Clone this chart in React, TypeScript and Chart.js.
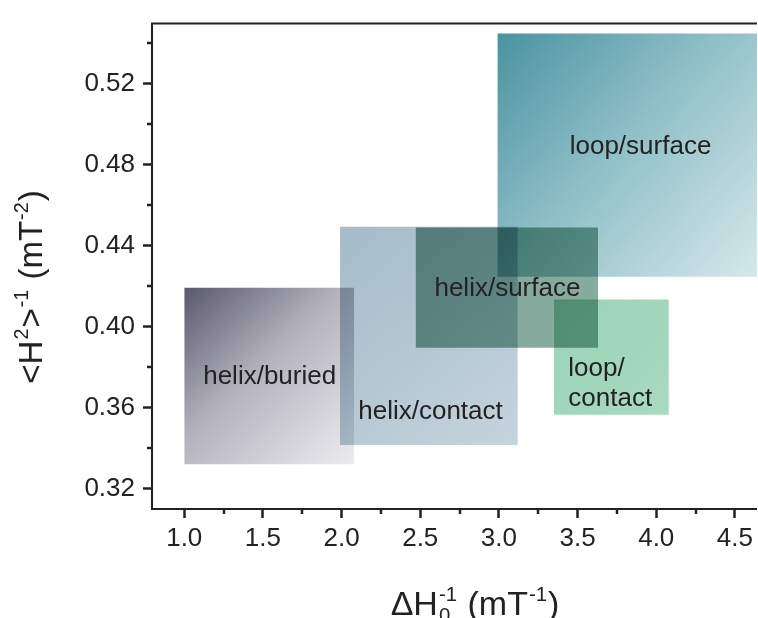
import React, { useEffect, useRef } from 'react';
import { Chart, registerables } from 'chart.js';

Chart.register(...registerables);

// ---- data ----
const regionNames = ['helix/buried', 'helix/contact', 'helix/surface', 'loop/surface', 'loop/contact'];
const xStart = [1.0, 1.99, 2.47, 2.99, 3.35];
const xEnd = [2.08, 3.12, 3.63, 4.72, 4.08];
const yBottom = [0.332, 0.3415, 0.3896, 0.4247, 0.3565];
const yTop = [0.4192, 0.4494, 0.449, 0.5449, 0.4134];
const colorStart = ['#5a586d', '#a6bbc9', '#7ea698', '#4a93a0', '#9bd3b7'];
const colorMid = ['#b4b3bd', '#b2c6d2', '#82a99b', '#8fbfc7', '#a1d6bb'];
const colorEnd = ['#ececf0', '#c5d4dd', '#86ad9f', '#d8eaec', '#a8dac1'];

const labelLines = [['helix/buried'], ['helix/contact'], ['helix/surface'], ['loop/surface'], ['loop/', 'contact']];
const labelX = [1.543, 2.565, 3.054, 3.9, 3.441];
const labelY = [0.375, 0.358, 0.4187, 0.489, 0.379];
const labelAlign = ['center', 'center', 'center', 'center', 'left'];

const xMajorTicks = [1.0, 1.5, 2.0, 2.5, 3.0, 3.5, 4.0, 4.5];
const xMinorTicks = [1.25, 1.75, 2.25, 2.75, 3.25, 3.75, 4.25];
const yMajorTicks = [0.32, 0.36, 0.40, 0.44, 0.48, 0.52];
const yMinorTicks = [0.34, 0.38, 0.42, 0.46, 0.50, 0.54];

const X_MIN = 0.795;
const X_MAX = 4.64;
const Y_MIN = 0.3099;
const Y_MAX = 0.5498;

const FONT = '"Liberation Sans", Arial, sans-serif';
const INK = '#222222';

type Piece = { k: 'n' | 'sup' | 'sub' | 'subsup'; t: string; t2?: string };

const xTitle: Piece[] = [
  { k: 'n', t: '\u0394H' },
  { k: 'subsup', t: '-1', t2: '0' },
  { k: 'n', t: ' (mT' },
  { k: 'sup', t: '-1' },
  { k: 'n', t: ')' },
];
const yTitle: Piece[] = [
  { k: 'n', t: '<H' },
  { k: 'sup', t: '2' },
  { k: 'n', t: '>' },
  { k: 'sup', t: '-1' },
  { k: 'n', t: ' (mT' },
  { k: 'sup', t: '-2' },
  { k: 'n', t: ')' },
];

function pieceWidth(ctx: CanvasRenderingContext2D, p: Piece, fs: number) {
  const small = fs * 0.6;
  if (p.k === 'n') {
    ctx.font = `${fs}px ${FONT}`;
    return ctx.measureText(p.t).width;
  }
  ctx.font = `${small}px ${FONT}`;
  if (p.k === 'subsup') {
    return Math.max(ctx.measureText(p.t).width, ctx.measureText(p.t2 || '').width) + 2;
  }
  return ctx.measureText(p.t).width + 2;
}

function drawRich(ctx: CanvasRenderingContext2D, pieces: Piece[], cx: number, by: number, fs: number) {
  const small = fs * 0.6;
  const widths = pieces.map((p) => pieceWidth(ctx, p, fs));
  const total = widths.reduce((a, b) => a + b, 0);
  let x = cx - total / 2;
  ctx.textAlign = 'left';
  ctx.textBaseline = 'alphabetic';
  ctx.fillStyle = INK;
  pieces.forEach((p, i) => {
    if (p.k === 'n') {
      ctx.font = `${fs}px ${FONT}`;
      ctx.fillText(p.t, x, by);
    } else {
      ctx.font = `${small}px ${FONT}`;
      if (p.k === 'sup' || p.k === 'subsup') ctx.fillText(p.t, x + 1, by - fs * 0.42);
      if (p.k === 'sub') ctx.fillText(p.t, x + 1, by + fs * 0.2);
      if (p.k === 'subsup') ctx.fillText(p.t2 || '', x + 1, by + fs * 0.2);
    }
    x += widths[i];
  });
}

const decorPlugin = {
  id: 'decor',
  beforeDatasetsDraw(chart: any) {
    chart.ctx.save();
    chart.ctx.globalCompositeOperation = 'multiply';
  },
  afterDatasetsDraw(chart: any) {
    const ctx: CanvasRenderingContext2D = chart.ctx;
    ctx.restore();
    const xs = chart.scales.x;
    const ys = chart.scales.y;
    ctx.save();
    ctx.fillStyle = INK;
    ctx.font = `26px ${FONT}`;
    ctx.textBaseline = 'middle';
    labelLines.forEach((lines, i) => {
      const px = xs.getPixelForValue(labelX[i]);
      const py = ys.getPixelForValue(labelY[i]);
      ctx.textAlign = labelAlign[i] as CanvasTextAlign;
      lines.forEach((line, j) => {
        ctx.fillText(line, px, py + j * 30);
      });
    });
    ctx.restore();
  },
  afterDraw(chart: any) {
    const ctx: CanvasRenderingContext2D = chart.ctx;
    const { left, right, top, bottom } = chart.chartArea;
    const xs = chart.scales.x;
    const ys = chart.scales.y;
    ctx.save();
    ctx.strokeStyle = INK;
    ctx.lineWidth = 2;
    ctx.beginPath();
    ctx.moveTo(left - 1, top);
    ctx.lineTo(right, top);
    ctx.stroke();
    ctx.lineWidth = 2.5;
    ctx.beginPath();
    xMinorTicks.forEach((v) => {
      const px = Math.round(xs.getPixelForValue(v));
      ctx.moveTo(px, bottom);
      ctx.lineTo(px, bottom + 5);
    });
    yMinorTicks.forEach((v) => {
      const py = Math.round(ys.getPixelForValue(v));
      ctx.moveTo(left, py);
      ctx.lineTo(left - 5, py);
    });
    ctx.stroke();
    // axis titles
    drawRich(ctx, xTitle, 475, 615, 34);
    ctx.translate(42, 287);
    ctx.rotate(-Math.PI / 2);
    drawRich(ctx, yTitle, 0, 0, 33);
    ctx.restore();
  },
};

export default function App() {
  const ref = useRef<HTMLCanvasElement>(null);

  useEffect(() => {
    const canvas = ref.current;
    if (!canvas) return;

    const gradientFor = (i: number) => (c: any) => {
      const chart = c.chart;
      const xs = chart.scales?.x;
      const ys = chart.scales?.y;
      if (!chart.chartArea || !xs || !ys) return colorStart[i];
      const x0 = xs.getPixelForValue(xStart[i]);
      const x1 = xs.getPixelForValue(xEnd[i]);
      const y0 = ys.getPixelForValue(yTop[i]);
      const y1 = ys.getPixelForValue(yBottom[i]);
      if (![x0, x1, y0, y1].every(Number.isFinite)) return colorStart[i];
      const g = chart.ctx.createLinearGradient(x0, y0, x1, y1);
      g.addColorStop(0, colorStart[i]);
      g.addColorStop(0.45, colorMid[i]);
      g.addColorStop(1, colorEnd[i]);
      return g;
    };

    const datasets = regionNames.map((name, i) => ({
      type: 'line' as const,
      label: name,
      data: [
        { x: xStart[i], y: yTop[i] },
        { x: xEnd[i], y: yTop[i] },
      ],
      fill: { value: yBottom[i] },
      backgroundColor: gradientFor(i),
      borderColor: 'rgba(0,0,0,0)',
      borderWidth: 0,
      pointRadius: 0,
      pointHoverRadius: 0,
      tension: 0,
    }));

    const tickFont = { family: FONT, size: 26 };

    const chart = new Chart(canvas, {
      type: 'line',
      data: { datasets },
      plugins: [decorPlugin],
      options: {
        animation: false,
        responsive: false,
        events: [],
        layout: { padding: { left: 0, top: 15, right: 0, bottom: 0 } },
        plugins: {
          legend: { display: false },
          tooltip: { enabled: false },
          title: { display: false },
        },
        scales: {
          x: {
            type: 'linear',
            position: 'bottom',
            min: X_MIN,
            max: X_MAX,
            afterBuildTicks: (s: any) => {
              s.ticks = xMajorTicks.map((v) => ({ value: v }));
            },
            afterFit: (s: any) => {
              s.height = 109;
            },
            ticks: {
              font: tickFont,
              color: INK,
              padding: 5,
              maxRotation: 0,
              autoSkip: false,
              callback: (v: any) => Number(v).toFixed(1),
            },
            grid: {
              display: true,
              drawOnChartArea: false,
              drawTicks: true,
              tickLength: 9,
              tickWidth: 2.5,
              tickColor: INK,
            },
            border: { display: true, color: INK, width: 2 },
          },
          y: {
            type: 'linear',
            position: 'left',
            min: Y_MIN,
            max: Y_MAX,
            afterBuildTicks: (s: any) => {
              s.ticks = yMajorTicks.map((v) => ({ value: v }));
            },
            afterFit: (s: any) => {
              s.width = 152;
            },
            ticks: {
              font: tickFont,
              color: INK,
              padding: 8,
              autoSkip: false,
              callback: (v: any) => Number(v).toFixed(2),
            },
            grid: {
              display: true,
              drawOnChartArea: false,
              drawTicks: true,
              tickLength: 9,
              tickWidth: 2.5,
              tickColor: INK,
            },
            border: { display: true, color: INK, width: 2 },
          },
        },
      } as any,
    });

    return () => {
      chart.destroy();
    };
  }, []);

  return (
    <canvas
      ref={ref}
      width={758}
      height={618}
      style={{ position: 'fixed', left: 0, top: 0, width: 758, height: 618, background: '#ffffff' }}
    />
  );
}
